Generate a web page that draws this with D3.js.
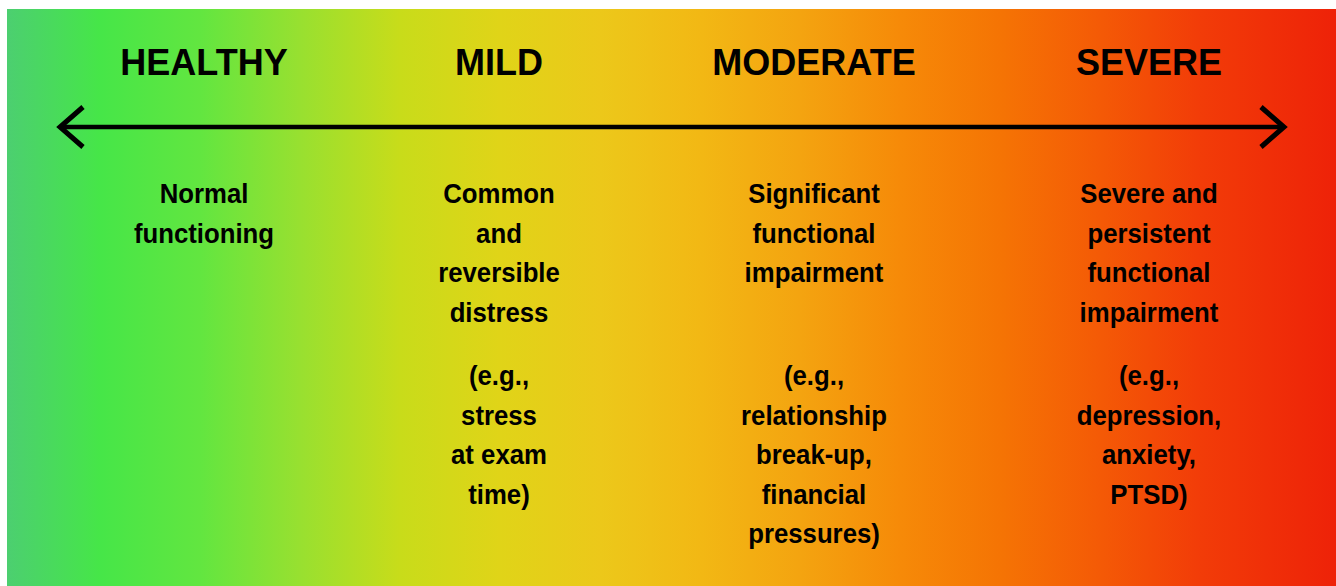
<!DOCTYPE html>
<html>
<head>
<meta charset="utf-8">
<script src="https://cdn.jsdelivr.net/npm/d3@7"></script>
<style>
  html, body { margin: 0; padding: 0; background: #fff; }
  svg { display: block; }
</style>
</head>
<body>
<div id="chart"></div>
<script>
// continuum levels
const levels = ['HEALTHY', 'MILD', 'MODERATE', 'SEVERE'];
const descriptions = [
  ['Normal', 'functioning'],
  ['Common', 'and', 'reversible', 'distress'],
  ['Significant', 'functional', 'impairment'],
  ['Severe and', 'persistent', 'functional', 'impairment']
];
const examples = [
  [],
  ['(e.g.,', 'stress', 'at exam', 'time)'],
  ['(e.g.,', 'relationship', 'break-up,', 'financial', 'pressures)'],
  ['(e.g.,', 'depression,', 'anxiety,', 'PTSD)']
];
// background colour stops, left to right
const gradientColors = ['#4ccf70', '#46e648', '#62e640', '#98e030', '#c8dc1a', '#e0d418',
  '#ecc81a', '#f2b814', '#f4a410', '#f68a08', '#f57404', '#f45a06', '#f23c08', '#ee2208'];
const gradientX = [7, 100, 200, 300, 400, 500, 600, 700, 800, 900, 1000, 1100, 1200, 1336];

const width = 1336, height = 586;
const colX = [204, 499, 814, 1149];
const lineH = 39.6;

const svg = d3.select('#chart').append('svg')
  .attr('width', width)
  .attr('height', height);

const xPct = d3.scaleLinear().domain([7, width]).range([0, 100]);

const grad = svg.append('defs').append('linearGradient')
  .attr('id', 'bg')
  .attr('x1', '0%').attr('x2', '100%')
  .attr('y1', '0%').attr('y2', '0%');
grad.selectAll('stop')
  .data(gradientColors)
  .join('stop')
  .attr('offset', (d, i) => xPct(gradientX[i]) + '%')
  .attr('stop-color', d => d);

svg.append('rect')
  .attr('x', 7).attr('y', 9)
  .attr('width', width - 7).attr('height', height - 9)
  .attr('fill', 'url(#bg)');

const x = d3.scaleOrdinal(levels, colX);

// double-headed arrow
const arrowY = 127, left = 60, right = 1284;
svg.append('line')
  .attr('x1', left).attr('x2', right)
  .attr('y1', arrowY).attr('y2', arrowY)
  .attr('stroke', '#000').attr('stroke-width', 4.5);
svg.append('path')
  .attr('d', d3.line()([[left + 23, arrowY - 20], [left, arrowY], [left + 23, arrowY + 20]]))
  .attr('fill', 'none').attr('stroke', '#000').attr('stroke-width', 5);
svg.append('path')
  .attr('d', d3.line()([[right - 23, arrowY - 20], [right, arrowY], [right - 23, arrowY + 20]]))
  .attr('fill', 'none').attr('stroke', '#000').attr('stroke-width', 5);

// titles
svg.selectAll('text.title')
  .data(levels)
  .join('text')
  .attr('class', 'title')
  .attr('x', d => x(d))
  .attr('y', 75)
  .attr('text-anchor', 'middle')
  .style('font-family', '"Liberation Sans", Arial, sans-serif')
  .style('font-weight', 'bold')
  .style('font-size', '36px')
  .attr('fill', '#000')
  .text(d => d);

// description + example blocks
const cols = svg.selectAll('g.col')
  .data(levels)
  .join('g')
  .attr('class', 'col')
  .attr('transform', d => `translate(${x(d)},0) scale(0.92,1)`);

function block(sel, lines, y0) {
  sel.selectAll(null)
    .data(lines)
    .join('text')
    .attr('x', 0)
    .attr('y', (d, i) => y0 + i * lineH)
    .attr('text-anchor', 'middle')
    .style('font-family', '"Liberation Sans", Arial, sans-serif')
    .style('font-weight', 'bold')
    .style('font-size', '28px')
    .attr('fill', '#000')
    .text(d => d);
}

cols.each(function (d, i) {
  const g = d3.select(this);
  block(g, descriptions[i], 203);
  block(g, examples[i], 385);
});
</script>
</body>
</html>
